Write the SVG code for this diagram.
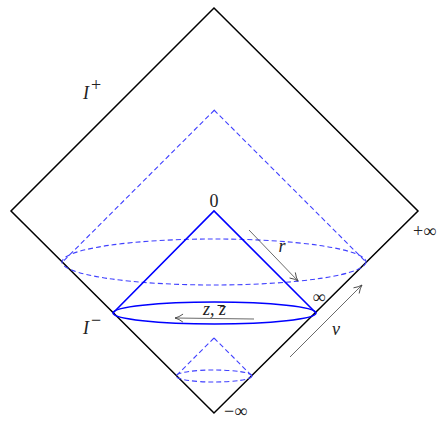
<svg xmlns="http://www.w3.org/2000/svg" width="437" height="421" viewBox="0 0 437 421">
<style>
.frame{fill:none;stroke:#000;stroke-width:1.5}
.dash{fill:none;stroke:#4040ff;stroke-width:1.1;stroke-dasharray:5,3}
.solid{fill:none;stroke:#0000ff;stroke-width:1.6}
.arr{fill:none;stroke:#444;stroke-width:0.8}
text{font-family:"Liberation Serif","DejaVu Serif",serif;font-size:18px;fill:#222}
.it{font-style:italic}
</style>
<defs>
<marker id="ah" viewBox="0 0 10 10" refX="9" refY="5" markerWidth="10" markerHeight="10" markerUnits="userSpaceOnUse" orient="auto">
<path d="M1,1 Q5,4 9,5 Q5,6 1,9" fill="none" stroke="#444" stroke-width="0.9"/>
</marker>
</defs>
<g id="diamond">
<polygon class="frame" points="214,8 418,211 214,413 11,211"/>
</g>
<g id="dashed-cone">
<line class="dash" x1="214.5" y1="110" x2="62.5" y2="262"/>
<line class="dash" x1="214" y1="110" x2="366" y2="262"/>
<ellipse class="dash" cx="214" cy="262" rx="152" ry="23"/>
</g>
<g id="solid-cone">
<polyline class="solid" points="113,313 214,211 316,313"/>
<ellipse class="solid" cx="214.5" cy="313" rx="101.5" ry="11"/>
</g>
<g id="small-cone">
<line class="dash" x1="214" y1="338" x2="176" y2="376"/>
<line class="dash" x1="214" y1="338" x2="252" y2="376"/>
<ellipse class="dash" cx="214" cy="376" rx="38" ry="6"/>
</g>
<g id="connectors">
<line class="arr" x1="249" y1="230" x2="298" y2="281" marker-end="url(#ah)"/>
<line class="arr" x1="290" y1="357" x2="362" y2="285" marker-end="url(#ah)"/>
<line class="arr" x1="254" y1="319" x2="175" y2="318" marker-end="url(#ah)"/>
</g>
<g id="labels">
<text x="214" y="207" text-anchor="middle">0</text>
<text class="it" x="282" y="252" text-anchor="middle">r</text>
<text x="319" y="303" text-anchor="middle" font-size="22">∞</text>
<text class="it" x="336" y="335" text-anchor="middle">v</text>
<text class="it" x="203" y="315" font-size="16">z, z</text>
<line x1="217.5" y1="305.5" x2="224.5" y2="305.5" stroke="#222" stroke-width="1"/>
<text class="it" x="83" y="99">I</text>
<text x="91" y="91" font-size="13">+</text>
<text class="it" x="83" y="334">I</text>
<text x="91" y="326" font-size="13">−</text>
<text x="413" y="237">+∞</text>
<text x="224" y="417">−∞</text>
</g>
</svg>
